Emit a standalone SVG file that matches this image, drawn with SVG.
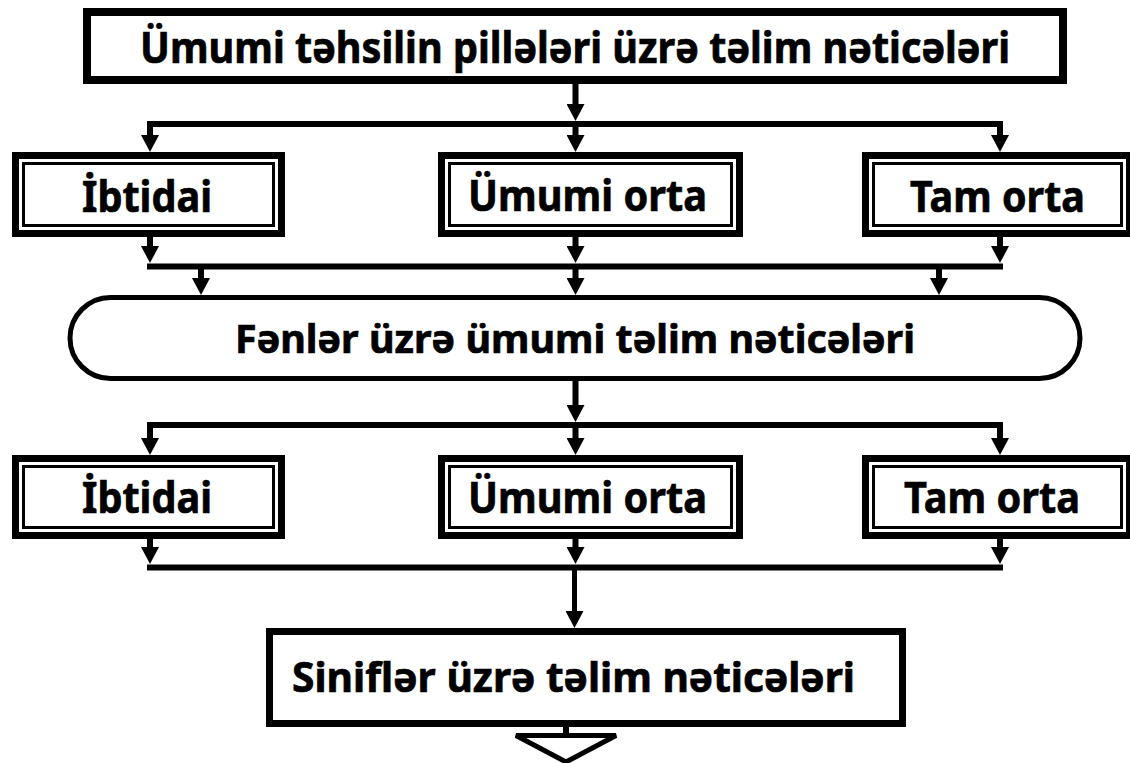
<svg xmlns="http://www.w3.org/2000/svg" width="1130" height="763" viewBox="0 0 1130 763">
<style>
.bg{fill:#fff}
.box{fill:#fff;stroke:#000;stroke-width:8}
.outer{fill:#fff;stroke:#000;stroke-width:7}
.inner{fill:none;stroke:#000;stroke-width:3}
.pill{fill:#fff;stroke:#000;stroke-width:5}
.bot{fill:#fff;stroke:#000;stroke-width:7}
.t{font-family:"Noto Sans","Open Sans","DejaVu Sans",sans-serif;font-weight:bold;fill:#000;stroke:#000;stroke-width:0.7;text-anchor:start}
.ln{fill:none;stroke:#000;stroke-width:6}
.hl{fill:none;stroke:#000;stroke-width:6;stroke-linecap:square}
.ar{fill:none;stroke:#000;stroke-width:6;marker-end:url(#ah)}
.ar5{fill:none;stroke:#000;stroke-width:5;marker-end:url(#ah)}
.tri{fill:#fff;stroke:#000;stroke-width:5;stroke-linejoin:miter}
</style>
<defs>
<marker id="ah" markerUnits="userSpaceOnUse" viewBox="0 0 17 18" markerWidth="17" markerHeight="18" refX="7" refY="9" orient="auto">
<path d="M0,0 L17,9 L0,18 z" fill="#000"/>
</marker>
</defs>
<rect class="bg" x="0" y="0" width="1130" height="763"/>

<g id="connectors">
<path class="ar" d="M575.5,84 V111"/>
<path class="hl" d="M150,124 H1000"/>
<path class="ar" d="M150,124 V142"/>
<path class="ar" d="M575.5,124 V142"/>
<path class="ar" d="M1000,124 V142"/>
<path class="ar" d="M150,237 V253"/>
<path class="ar" d="M575.5,237 V253"/>
<path class="ar" d="M1000,237 V253"/>
<path class="hl" d="M150,266.5 H1000"/>
<path class="ar" d="M201,266.5 V285"/>
<path class="ar" d="M575.5,266.5 V285"/>
<path class="ar" d="M939,266.5 V285"/>
<path class="ar" d="M575.5,381 V412"/>
<path class="hl" d="M150,425 H1000"/>
<path class="ar" d="M150,425 V445"/>
<path class="ar" d="M575.5,425 V445"/>
<path class="ar" d="M1000,425 V445"/>
<path class="ar" d="M150,539 V554"/>
<path class="ar" d="M575.5,539 V554"/>
<path class="ar" d="M1000,539 V554"/>
<path class="hl" d="M150,567.5 H1000"/>
<path class="ar5" d="M574.5,567.5 V618"/>
<path class="ln" d="M566,727 V737"/>
</g>

<g id="n-top">
<rect class="box" x="87" y="12" width="976" height="68"/>
<text class="t" x="140" y="63" font-size="43" textLength="870" lengthAdjust="spacingAndGlyphs">Ümumi təhsilin pillələri üzrə təlim nəticələri</text>
</g>

<g id="n-ibtidai-1">
<rect class="outer" x="15.5" y="155.5" width="266" height="78"/>
<rect class="inner" x="23.5" y="163.5" width="250" height="62"/>
<text class="t" x="82" y="212" font-size="43" textLength="130" lengthAdjust="spacingAndGlyphs">İbtidai</text>
</g>
<g id="n-umumi-1">
<rect class="outer" x="441.5" y="155.5" width="298" height="78"/>
<rect class="inner" x="449.5" y="163.5" width="282" height="62"/>
<text class="t" x="468" y="211" font-size="43" textLength="239" lengthAdjust="spacingAndGlyphs">Ümumi orta</text>
</g>
<g id="n-tam-1">
<rect class="outer" x="865.5" y="155.5" width="264" height="78"/>
<rect class="inner" x="873.5" y="163.5" width="248" height="62"/>
<text class="t" x="910" y="212" font-size="43" textLength="175" lengthAdjust="spacingAndGlyphs">Tam orta</text>
</g>

<g id="n-fenler">
<rect class="pill" x="70" y="297.5" width="1010" height="81" rx="40.5" ry="40.5"/>
<text class="t" x="235" y="353" font-size="40" textLength="680" lengthAdjust="spacingAndGlyphs">Fənlər üzrə ümumi təlim nəticələri</text>
</g>

<g id="n-ibtidai-2">
<rect class="outer" x="15.5" y="458.5" width="266" height="77"/>
<rect class="inner" x="23.5" y="466.5" width="250" height="61"/>
<text class="t" x="82" y="513" font-size="43" textLength="130" lengthAdjust="spacingAndGlyphs">İbtidai</text>
</g>
<g id="n-umumi-2">
<rect class="outer" x="441.5" y="458.5" width="298" height="77"/>
<rect class="inner" x="449.5" y="466.5" width="282" height="61"/>
<text class="t" x="468" y="513" font-size="43" textLength="239" lengthAdjust="spacingAndGlyphs">Ümumi orta</text>
</g>
<g id="n-tam-2">
<rect class="outer" x="865.5" y="458.5" width="264" height="77"/>
<rect class="inner" x="873.5" y="466.5" width="248" height="61"/>
<text class="t" x="904" y="513" font-size="43" textLength="176" lengthAdjust="spacingAndGlyphs">Tam orta</text>
</g>

<g id="n-sinifler">
<rect class="bot" x="269.5" y="631.5" width="633" height="92"/>
<text class="t" x="292" y="692" font-size="41" textLength="563" lengthAdjust="spacingAndGlyphs">Siniflər üzrə təlim nəticələri</text>
</g>

<g id="n-triangle">
<polygon class="tri" points="516,735.5 616,735.5 566,762"/>
</g>
</svg>
